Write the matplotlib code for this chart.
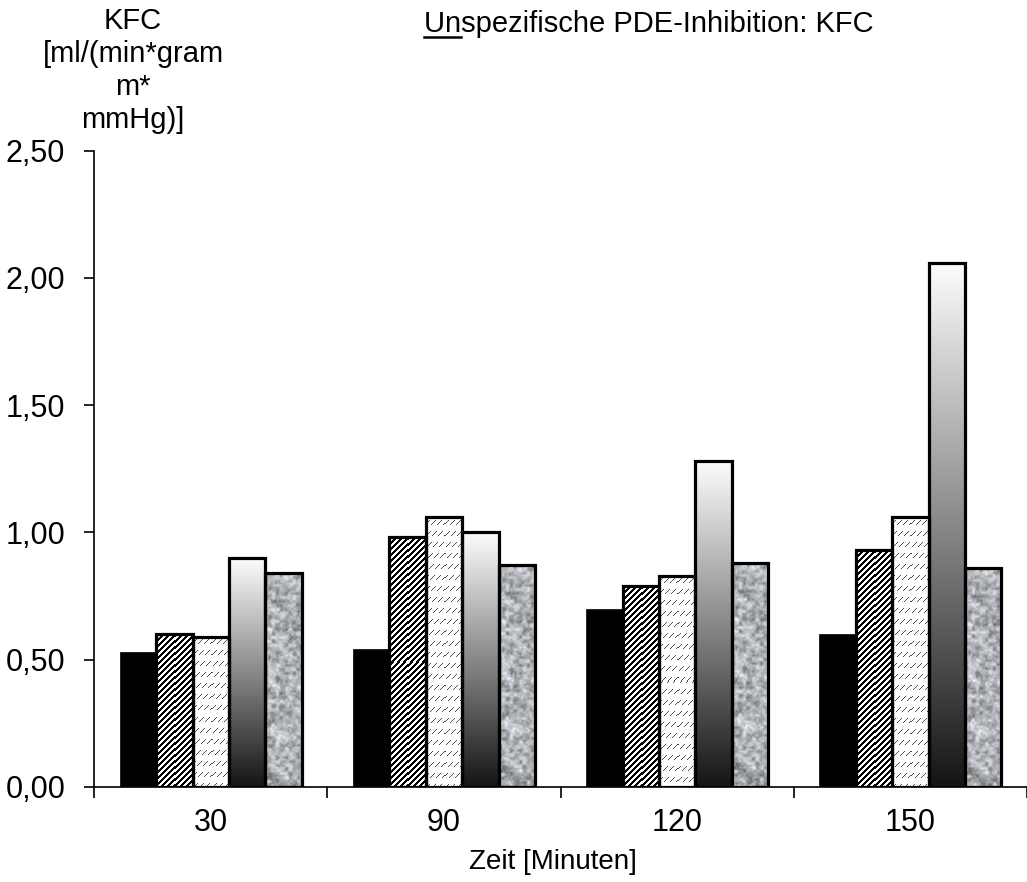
import numpy as np
import matplotlib
matplotlib.use("Agg")
import matplotlib.pyplot as plt
from matplotlib.lines import Line2D

plt.rcParams["font.family"] = ["Liberation Sans", "DejaVu Sans"]

# data (KFC values)
times = ["30", "90", "120", "150"]
s_black = [0.53, 0.54, 0.70, 0.60]
s_hatch = [0.60, 0.98, 0.79, 0.93]
s_fine = [0.59, 1.06, 0.83, 1.06]
s_grad = [0.90, 1.00, 1.28, 2.06]
s_stone = [0.84, 0.87, 0.88, 0.86]
yticks = [0.0, 0.5, 1.0, 1.5, 2.0, 2.5]

W, H, DPI = 1027, 882, 100
fig = plt.figure(figsize=(W / DPI, H / DPI), dpi=DPI)
ax = fig.add_axes([94.3 / W, (H - 786.7) / H, 1 - 94.3 / W, (786.7 - 150.7) / H])

BW = 0.156
offs = (np.arange(5) - 2) * BW
x0 = np.arange(len(times)) + 0.5
PPX = (W - 94.3) / 4.0          # px per x unit
PPY = (786.7 - 150.7) / 2.5     # px per y unit


def hashnoise(ii, jj):
    v = np.sin(ii * 12.9898 + jj * 78.233) * 43758.5453
    return v - np.floor(v)


def value_noise(h, w, cell):
    gi = np.arange(h // cell + 3)
    gj = np.arange(w // cell + 3)
    G = hashnoise(gi[:, None] * 1.0, gj[None, :] * 1.0 + 7.3)
    yi = np.arange(h) / cell
    xj = np.arange(w) / cell
    i0 = np.floor(yi).astype(int); fy = (yi - i0)[:, None]
    j0 = np.floor(xj).astype(int); fx = (xj - j0)[None, :]
    fy = fy * fy * (3 - 2 * fy); fx = fx * fx * (3 - 2 * fx)
    a = G[i0][:, j0]; b = G[i0][:, j0 + 1]
    c = G[i0 + 1][:, j0]; d = G[i0 + 1][:, j0 + 1]
    return (a * (1 - fx) + b * fx) * (1 - fy) + (c * (1 - fx) + d * fx) * fy


def tex_hatch(h, w):
    ii, jj = np.mgrid[0:h, 0:w]
    d = np.mod(ii + jj, 6.0)
    g = np.where(d < 2.6, 0.0, 1.0)
    return np.dstack([g, g, g])


def tex_fine(h, w):
    ii, jj = np.mgrid[0:h, 0:w]
    d = np.mod(ii + jj, 6.0)
    row = np.mod(ii, 11.0)
    dash = (d < 1.0) & (row > 2) & (row < 8)
    g = np.where(dash, 0.3, 1.0)
    return np.dstack([g, g, g])


def tex_grad(h, w):
    t = np.linspace(0.99, 0.08, h)[:, None] * np.ones((1, w))
    return np.dstack([t, t, t])


def tex_stone(h, w):
    n = 0.55 * value_noise(h, w, 4) + 0.3 * value_noise(h, w, 2) + 0.15 * value_noise(h, w, 7)
    n = (n - n.min()) / (n.max() - n.min() + 1e-9)
    g = 0.40 + 0.57 * n
    return np.dstack([g * 0.96, g * 0.98, g * 1.0]).clip(0, 1)


series = [(s_black, None), (s_hatch, tex_hatch), (s_fine, tex_fine),
          (s_grad, tex_grad), (s_stone, tex_stone)]

for k, (vals, tex) in enumerate(series):
    if tex is None:
        ax.bar(x0 + offs[k], vals, BW, color="black", edgecolor="black",
               linewidth=0.5, zorder=3)
        continue
    bars = ax.bar(x0 + offs[k], vals, BW, facecolor="none", edgecolor="black",
                  linewidth=2.3, zorder=4)
    for b, v in zip(bars, vals):
        hp = max(int(round(v * PPY)), 2)
        wp = max(int(round(BW * PPX)), 2)
        img = tex(hp, wp)
        xl = b.get_x()
        im = ax.imshow(img, extent=(xl, xl + BW, 0, v), aspect="auto",
                       interpolation="nearest", zorder=3)
        im.set_clip_path(b)

ax.set_xlim(0, 4)
ax.set_ylim(0, 2.5)
ax.set_aspect("auto")
for s in ("top", "right"):
    ax.spines[s].set_visible(False)
ax.spines["left"].set_linewidth(1.2)
ax.spines["bottom"].set_linewidth(1.2)

ax.set_yticks(yticks)
ax.set_yticklabels([f"{v:.2f}".replace(".", ",") for v in yticks], fontsize=22)
ax.tick_params(axis="y", direction="out", length=7, width=1.2, pad=14)

ax.set_xticks([0, 1, 2, 3, 4])
ax.set_xticklabels([])
ax.set_xticks(x0, minor=True)
ax.set_xticklabels(times, minor=True, fontsize=22)
ax.tick_params(axis="x", which="major", direction="out", length=8, width=1.2)
ax.tick_params(axis="x", which="minor", length=0, pad=15)

fig.text(553 / W, (H - 862) / H, "Zeit [Minuten]", ha="center", va="center", fontsize=20)
fig.text(133 / W, (H - 7) / H, "KFC\n[ml/(min*gram\nm*\nmmHg)]", ha="center",
         va="top", multialignment="center", fontsize=21, linespacing=1.22)

title = "Unspezifische PDE-Inhibition: KFC"
ty = (H - 32) / H
t = fig.text(649 / W, ty, title, ha="center", va="baseline", fontsize=21)
fig.canvas.draw()
r = fig.canvas.get_renderer()
bb = t.get_window_extent(r)
tmp = fig.text(0, 0, "Un", fontsize=21)
wun = tmp.get_window_extent(r).width
tmp.remove()
yb = ty * H - 5
fig.add_artist(Line2D([bb.x0 / W, (bb.x0 + wun) / W], [yb / H, yb / H],
                      transform=fig.transFigure, color="black", linewidth=1.8))

fig.savefig("out.png", dpi=DPI)
